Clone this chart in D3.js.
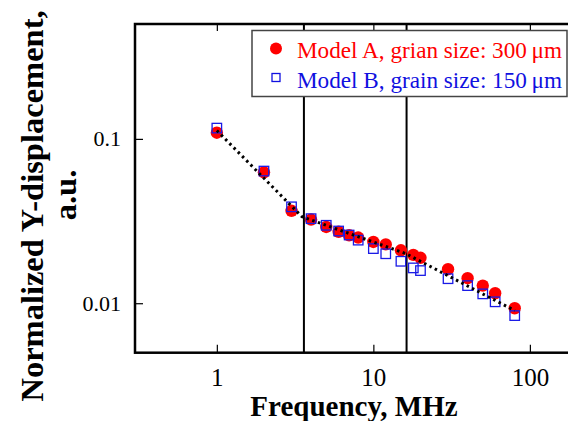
<!DOCTYPE html>
<html>
<head>
<meta charset="utf-8">
<script src="https://cdn.jsdelivr.net/npm/d3@7"></script>
<style>
  body { margin: 0; background: #fff; }
  svg { display: block; }
  text { font-family: "Liberation Serif", "Times New Roman", serif; }
</style>
</head>
<body>
<div id="chart"></div>
<script>
// frequency (MHz) and normalized Y-displacement for the two models
var freq = [1, 2, 3, 4, 5, 6, 7, 8, 10, 12, 15, 18, 20, 30, 40, 50, 60, 80]
var modelA = [0.109, 0.0626, 0.0365, 0.0323, 0.0291, 0.0272, 0.0259, 0.0251, 0.0236, 0.0228,
              0.0210, 0.0197, 0.0189, 0.0161, 0.0142, 0.0128, 0.0115, 0.00932]
var modelB = [0.1163, 0.0637, 0.0386, 0.0327, 0.0298, 0.0275, 0.0260, 0.0242, 0.0215, 0.0200,
              0.0180, 0.0164, 0.0158, 0.0141, 0.0128, 0.0114, 0.0102, 0.00841]

// piecewise power-law trend and the two region boundaries
var fitFreq = [1, 3.5, 16, 80]
var fitVal = [0.1124, 0.0336, 0.0201, 0.00902]
var boundaries = [3.6, 16.3]

var xTicks = [1, 10, 100]
var yTicks = [0.1, 0.01]
var yTickLabels = ["0.1", "0.01"]

var seriesNames = ["Model A, grian size: 300\u2009\u03bcm", "Model B, grain size: 150\u2009\u03bcm"]

var width = 568,
    height = 421,
    plotLeft = 135,
    plotRight = 577,
    plotTop = 24,
    plotBottom = 352.7

var x = d3.scaleLog()
  .domain([0.3, 200])
  .range([plotLeft, plotRight])

var y = d3.scaleLog()
  .domain([0.005, 0.5])
  .range([plotBottom, plotTop])

var svg = d3.select("#chart").append("svg")
    .attr("width", width)
    .attr("height", height)

// boundary lines between regions
svg.selectAll("line.bound")
    .data(boundaries)
  .enter().append("line")
    .attr("class", "bound")
    .attr("x1", function(d) { return x(d) })
    .attr("x2", function(d) { return x(d) })
    .attr("y1", plotTop)
    .attr("y2", plotBottom)
    .attr("stroke", "#000")
    .attr("stroke-width", 2)

svg.selectAll("circle.a")
    .data(freq)
  .enter().append("circle")
    .attr("class", "a")
    .attr("cx", function(d) { return x(d) })
    .attr("cy", function(d, i) { return y(modelA[i]) })
    .attr("r", 6.2)
    .attr("fill", "#ff0000")

var sq = 9.5
svg.selectAll("rect.b")
    .data(freq)
  .enter().append("rect")
    .attr("class", "b")
    .attr("x", function(d) { return x(d) - sq/2 })
    .attr("y", function(d, i) { return y(modelB[i]) - sq/2 })
    .attr("width", sq)
    .attr("height", sq)
    .attr("fill", "none")
    .attr("stroke", "#1a1ae6")
    .attr("stroke-width", 1.3)

var trend = d3.line()
  .x(function(d) { return x(d) })
  .y(function(d, i) { return y(fitVal[i]) })

svg.append("path")
    .attr("d", trend(fitFreq))
    .attr("fill", "none")
    .attr("stroke", "#000")
    .attr("stroke-width", 3)
    .attr("stroke-dasharray", "2.5 3.5")

// axes with inward ticks
var fmt = function(d) { return String(d) }

var xAxis = svg.append("g")
    .attr("transform", "translate(0," + plotBottom + ")")
    .call(d3.axisBottom(x).tickValues(xTicks).tickSize(-8).tickPadding(16).tickFormat(fmt))

svg.append("g")
    .attr("transform", "translate(0," + plotTop + ")")
    .call(d3.axisTop(x).tickValues(xTicks).tickSize(-7).tickFormat(""))

var yAxis = svg.append("g")
    .attr("transform", "translate(" + plotLeft + ",0)")
    .call(d3.axisLeft(y).tickValues(yTicks).tickSize(-8).tickPadding(14)
      .tickFormat(function(d, i) { return yTickLabels[i] }))

svg.selectAll(".domain").remove()
svg.selectAll(".tick line").attr("stroke", "#000").attr("stroke-width", 1.2)
svg.selectAll(".tick text")
    .attr("font-family", "Liberation Serif")
    .attr("fill", "#000")
xAxis.selectAll(".tick text").attr("font-size", 25)
yAxis.selectAll(".tick text").attr("font-size", 22)

// plot frame
svg.append("rect")
    .attr("x", plotLeft)
    .attr("y", plotTop)
    .attr("width", plotRight - plotLeft)
    .attr("height", plotBottom - plotTop)
    .attr("fill", "none")
    .attr("stroke", "#000")
    .attr("stroke-width", 2.5)

// legend
var legend = svg.append("g")
legend.append("rect")
    .attr("x", 252)
    .attr("y", 30.5)
    .attr("width", 315)
    .attr("height", 66)
    .attr("fill", "#fff")
    .attr("stroke", "#444")
    .attr("stroke-width", 1.5)

legend.append("circle")
    .attr("cx", 276)
    .attr("cy", 48.5)
    .attr("r", 6)
    .attr("fill", "#ff0000")

legend.append("rect")
    .attr("x", 272)
    .attr("y", 73.5)
    .attr("width", 8)
    .attr("height", 8)
    .attr("fill", "none")
    .attr("stroke", "#1010e0")
    .attr("stroke-width", 1.3)

legend.selectAll("text")
    .data(seriesNames)
  .enter().append("text")
    .attr("x", 297)
    .attr("y", function(d, i) { return 57.5 + i*30 })
    .attr("font-size", 23.2)
    .attr("fill", function(d, i) { return i == 0 ? "#ff0000" : "#1010e0" })
    .text(function(d) { return d })

// axis titles
svg.append("text")
    .attr("x", 354)
    .attr("y", 416)
    .attr("text-anchor", "middle")
    .attr("font-size", 29)
    .attr("font-weight", "bold")
    .text("Frequency, MHz")

svg.append("text")
    .attr("transform", "translate(43,206) rotate(-90)")
    .attr("text-anchor", "middle")
    .attr("font-size", 32.5)
    .attr("font-weight", "bold")
    .text("Normalized  Y-displacement,")

svg.append("text")
    .attr("transform", "translate(76,195) rotate(-90)")
    .attr("text-anchor", "middle")
    .attr("font-size", 32.5)
    .attr("font-weight", "bold")
    .text("a.u.")
</script>
</body>
</html>
